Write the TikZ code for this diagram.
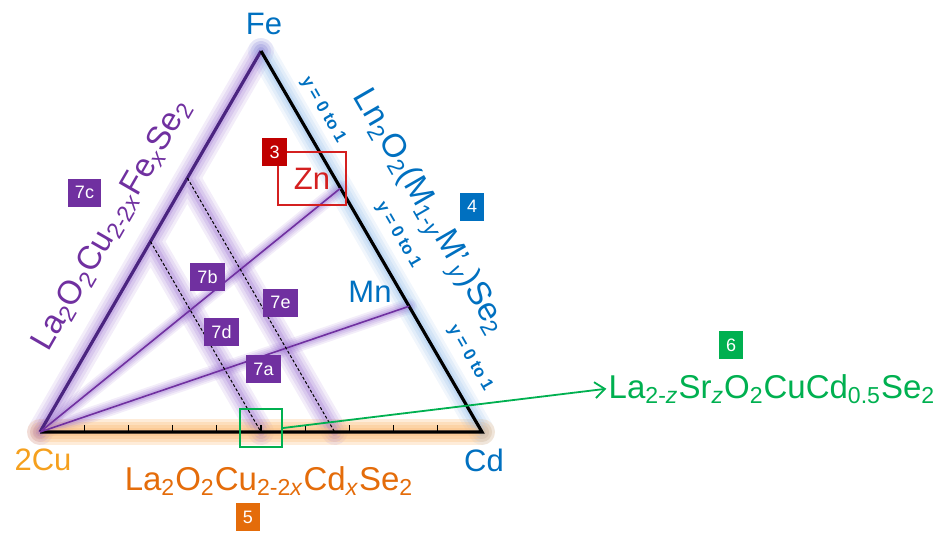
\documentclass[tikz,border=0pt]{standalone}
\usepackage{fontspec}
\setmainfont{Liberation Sans}
\usetikzlibrary{arrows.meta,positioning,calc}

\definecolor{cpurple}{HTML}{7030A0}
\definecolor{cdpurple}{HTML}{4B2580}
\definecolor{cblue}{HTML}{0070C0}
\definecolor{corange}{HTML}{E46C0A}
\definecolor{clorange}{HTML}{F5A01E}
\definecolor{cgreen}{HTML}{00B050}
\definecolor{cred}{HTML}{D42020}
\definecolor{cdred}{HTML}{C00000}
\definecolor{gpurple}{HTML}{9A6FD0}
\definecolor{gblue}{HTML}{8CB8E8}
\definecolor{gorange}{HTML}{FBC080}

\newcommand{\sub}[1]{\textsubscript{#1}}

\tikzset{
  badge/.style={fill=#1,text=white,font=\fontsize{9}{10}\selectfont,inner xsep=3.5pt,inner ysep=0pt,minimum height=14pt},
  elem/.style={font=\fontsize{15.5}{18}\selectfont,text=#1},
  formula/.style={font=\fontsize{16.5}{19}\selectfont,text=#1,inner sep=1pt},
  rangelbl/.style={font=\fontsize{8.5}{10}\selectfont\bfseries,text=cblue,inner sep=0pt},
  glowline/.style={line cap=round,line join=round}
}

\begin{document}
\begin{tikzpicture}[x=0.5pt,y=-0.5pt,>=Stealth]
\useasboundingbox (0,0) rectangle (941,536);
% corners and points on the edges
\coordinate (Cu) at (40,432);
\coordinate (Cd) at (482,432);
\coordinate (Fe) at (261,51);
\coordinate (Zn) at ($(Fe)!0.36!(Cd)$);
\coordinate (Mn) at ($(Fe)!0.67!(Cd)$);
\coordinate (d1) at ($(Cu)!0.5!(Fe)$);
\coordinate (d1b) at ($(Cu)!0.5!(Cd)$);
\coordinate (d2) at ($(Cu)!2/3!(Fe)$);
\coordinate (d2b) at ($(Cu)!2/3!(Cd)$);

% soft glow under the lines
\foreach \w/\o/\p in {13/0.12/0.30,10/0.15/0.32,7/0.18/0.36,4/0.24/0.4} {
  \draw[glowline,gorange,line width=\w pt,opacity=\p] (Cu) -- (Cd);
  \draw[glowline,gblue,line width=\w pt,opacity=\o] (Fe) -- (Cd);
  \draw[glowline,gpurple,line width=\w pt,opacity=\o] (Cu) -- (Fe) (d1) -- (d1b) (d2) -- (d2b);
  \draw[glowline,gpurple,line width=0.6*\w pt,opacity=\o] (Cu) -- (Zn) (Cu) -- (Mn);
}

% triangle
\draw[cdpurple,line width=1.6pt] (Cu) -- (Fe);
\draw[line width=1.6pt] (Fe) -- (Cd) -- (Cu);
\foreach \i in {1,...,9} \draw[line width=0.6pt] ($(Cu)!\i/10!(Cd)$) -- ++(0,-7);
\draw[cpurple,line width=0.8pt] (Cu) -- (Zn) (Cu) -- (Mn);
\draw[line width=0.5pt,dash pattern=on 1.5pt off 1pt] (d1) -- (d1b) (d2) -- (d2b);

% corner labels
\node[elem=cblue] (lFe) at (264,24) {Fe};
\node[elem=clorange] (lCu) at (43,460) {2Cu};
\node[elem=cblue] (lCd) at (484,460) {Cd};
\node[elem=cblue] (lMn) at (370,292) {Mn};
\node[elem=cred,draw=cred,line width=0.6pt,minimum width=34pt,minimum height=26.5pt] (znbox) at (312,178.5) {Zn};

% formulas
\node[formula=cpurple,rotate=60] (fLeft) at (112,225) {La\sub2O\sub2Cu\sub{2-2\textit{x}}Fe\sub{\textit{x}}Se\sub2};
\node[formula=cblue,rotate=-60] (fRight) at (428,213) {Ln\sub2O\sub2(M\sub{1-\textit{y}}M’\sub{\textit{y}})Se\sub2};
\node[formula=corange,anchor=base] (fBottom) at (269,490) {La\sub2O\sub2Cu\sub{2-2\textit{x}}Cd\sub{\textit{x}}Se\sub2};
\node[formula=cgreen,anchor=base] (fSr) at (772,398) {La\sub{2-\textit{z}}Sr\sub{\textit{z}}O\sub2CuCd\sub{0.5}Se\sub2};

\foreach \x/\y in {323/110,398/235,470/358}
  \node[rangelbl,rotate=-60] (yr\x) at (\x,\y) {y = 0 to 1};

% picked composition
\node[draw=cgreen,line width=0.9pt,minimum width=21pt,minimum height=19pt] (pick) at (261,428) {};
\draw[-{Straight Barb[length=5pt,width=8pt]},cgreen,line width=0.9pt] (pick.east) -- (fSr.west);

% numbered tags
\node[badge=cdred] (b3) at (274.5,152) {3};
\node[badge=cblue] (b4) at (472,206.5) {4};
\node[badge=corange] (b5) at (248,517) {5};
\node[badge=cgreen] (b6) at (731,345) {6};
\foreach \n/\x/\y in {7a/263.5/369,7b/207.5/277,7c/84.5/192.5,7d/221.5/332,7e/280.5/302.5}
  \node[badge=cpurple] (b\n) at (\x,\y) {\n};
\end{tikzpicture}
\end{document}
